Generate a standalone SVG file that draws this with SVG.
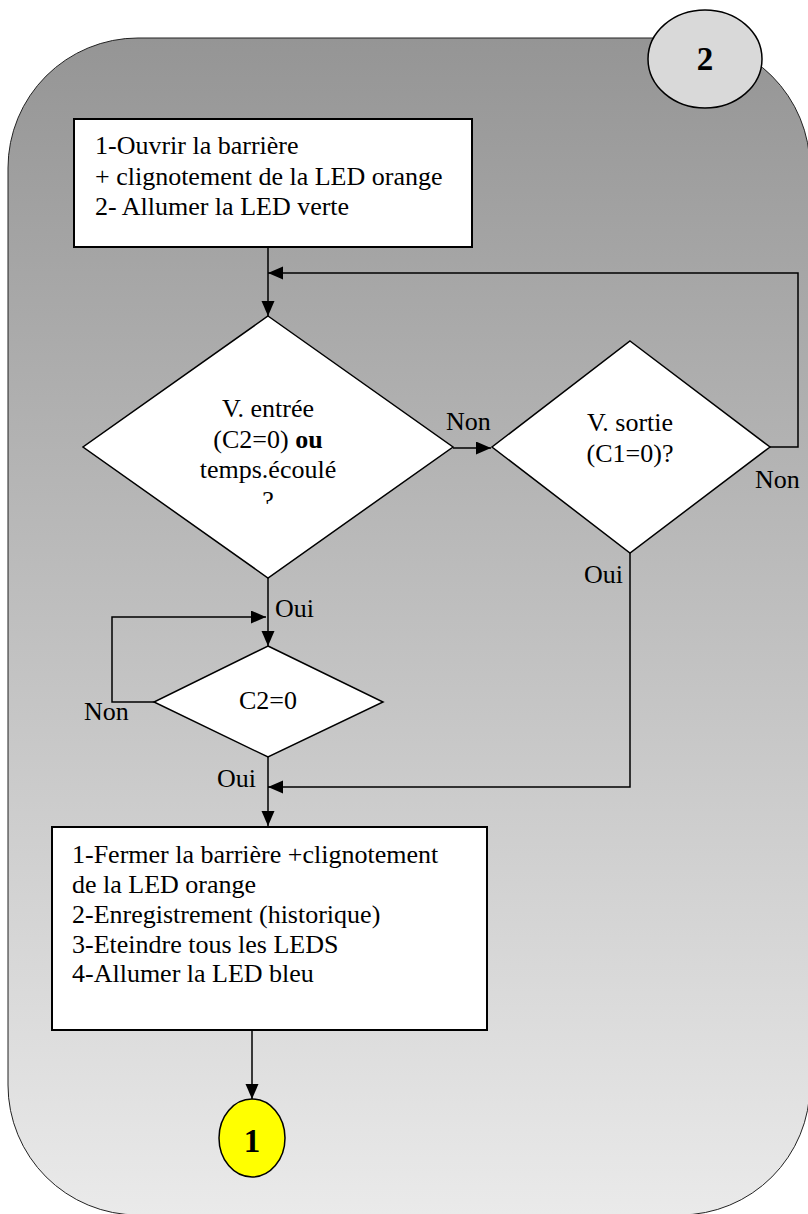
<svg xmlns="http://www.w3.org/2000/svg" width="808" height="1214" viewBox="0 0 808 1214">
<style>
text{font-family:"Liberation Serif","Times New Roman",serif;font-size:26px;fill:#000}
.box{fill:#fff;stroke:#000;stroke-width:2}
.dia{fill:#fff;stroke:#000;stroke-width:1.5}
.con{fill:none;stroke:#000;stroke-width:1.5}
.mid{text-anchor:middle}
.b{font-weight:bold}
.big{font-size:33px}
</style>
<defs>
<linearGradient id="bg" x1="0" y1="0" x2="0" y2="1">
<stop offset="0" stop-color="#959595"/>
<stop offset="1" stop-color="#eaeaea"/>
</linearGradient>
<marker id="arr" markerUnits="userSpaceOnUse" markerWidth="16" markerHeight="14" refX="15" refY="6.5" orient="auto">
<path d="M0,0 L15,6.5 L0,13 z" fill="#000"/>
</marker>
<clipPath id="qclip"><rect x="200" y="480" width="140" height="24"/></clipPath>
</defs>
<rect width="808" height="1214" fill="#fff"/>
<g id="background">
<rect x="8" y="38" width="802" height="1177" rx="130" ry="130" fill="url(#bg)" stroke="#222" stroke-width="1"/>
</g>
<g id="connectors">
<path class="con" d="M268,247 V316" marker-end="url(#arr)"/>
<path class="con" d="M770,447 H798 V273 H268" marker-end="url(#arr)"/>
<path class="con" d="M453,448 H491" marker-end="url(#arr)"/>
<path class="con" d="M268,578 V646" marker-end="url(#arr)"/>
<path class="con" d="M154,702 H112 V617 H266" marker-end="url(#arr)"/>
<path class="con" d="M268,757 V826" marker-end="url(#arr)"/>
<path class="con" d="M630,553 V787 H268" marker-end="url(#arr)"/>
<path class="con" d="M252,1031 V1099" marker-end="url(#arr)"/>
</g>
<g id="connector-2">
<ellipse cx="705" cy="59" rx="57" ry="49" fill="#d9d9d9" stroke="#000" stroke-width="1.5"/>
<text class="mid b big" x="705" y="70">2</text>
</g>
<g id="box-open">
<rect class="box" x="74" y="119" width="398" height="128"/>
<text x="95" y="154">1-Ouvrir la barrière</text>
<text x="95" y="184.5">+ clignotement de la LED orange</text>
<text x="95" y="215">2- Allumer la LED verte</text>
</g>
<g id="decision-entree">
<polygon class="dia" points="268,316 453,447 268,578 83,447"/>
<text class="mid" x="268" y="417">V. entrée</text>
<text class="mid" x="268" y="447.5">(C2=0) <tspan class="b">ou</tspan></text>
<text class="mid" x="268" y="478">temps.écoulé</text>
<text class="mid" x="268" y="508.5" clip-path="url(#qclip)">?</text>
</g>
<g id="decision-sortie">
<polygon class="dia" points="630,341 770,447 630,553 492,447"/>
<text class="mid" x="630" y="430.5">V. sortie</text>
<text class="mid" x="630" y="461.5">(C1=0)?</text>
</g>
<g id="decision-c2">
<polygon class="dia" points="268,646 383,702 268,757 154,702"/>
<text class="mid" x="268" y="709">C2=0</text>
</g>
<g id="box-close">
<rect class="box" x="52" y="827" width="435" height="203"/>
<text x="72" y="863">1-Fermer la barrière +clignotement</text>
<text x="72" y="892.5">de la LED orange</text>
<text x="72" y="922.5">2-Enregistrement (historique)</text>
<text x="72" y="952.5">3-Eteindre tous les LEDS</text>
<text x="72" y="982">4-Allumer la LED bleu</text>
</g>
<g id="connector-1">
<ellipse cx="252" cy="1138" rx="33" ry="39" fill="#ffff00" stroke="#000" stroke-width="1.5"/>
<text class="mid b big" x="252" y="1152">1</text>
</g>
<g id="labels">
<text x="446" y="430">Non</text>
<text x="755" y="488">Non</text>
<text x="584" y="583">Oui</text>
<text x="275" y="617">Oui</text>
<text x="84" y="720">Non</text>
<text x="217" y="787">Oui</text>
</g>
</svg>
